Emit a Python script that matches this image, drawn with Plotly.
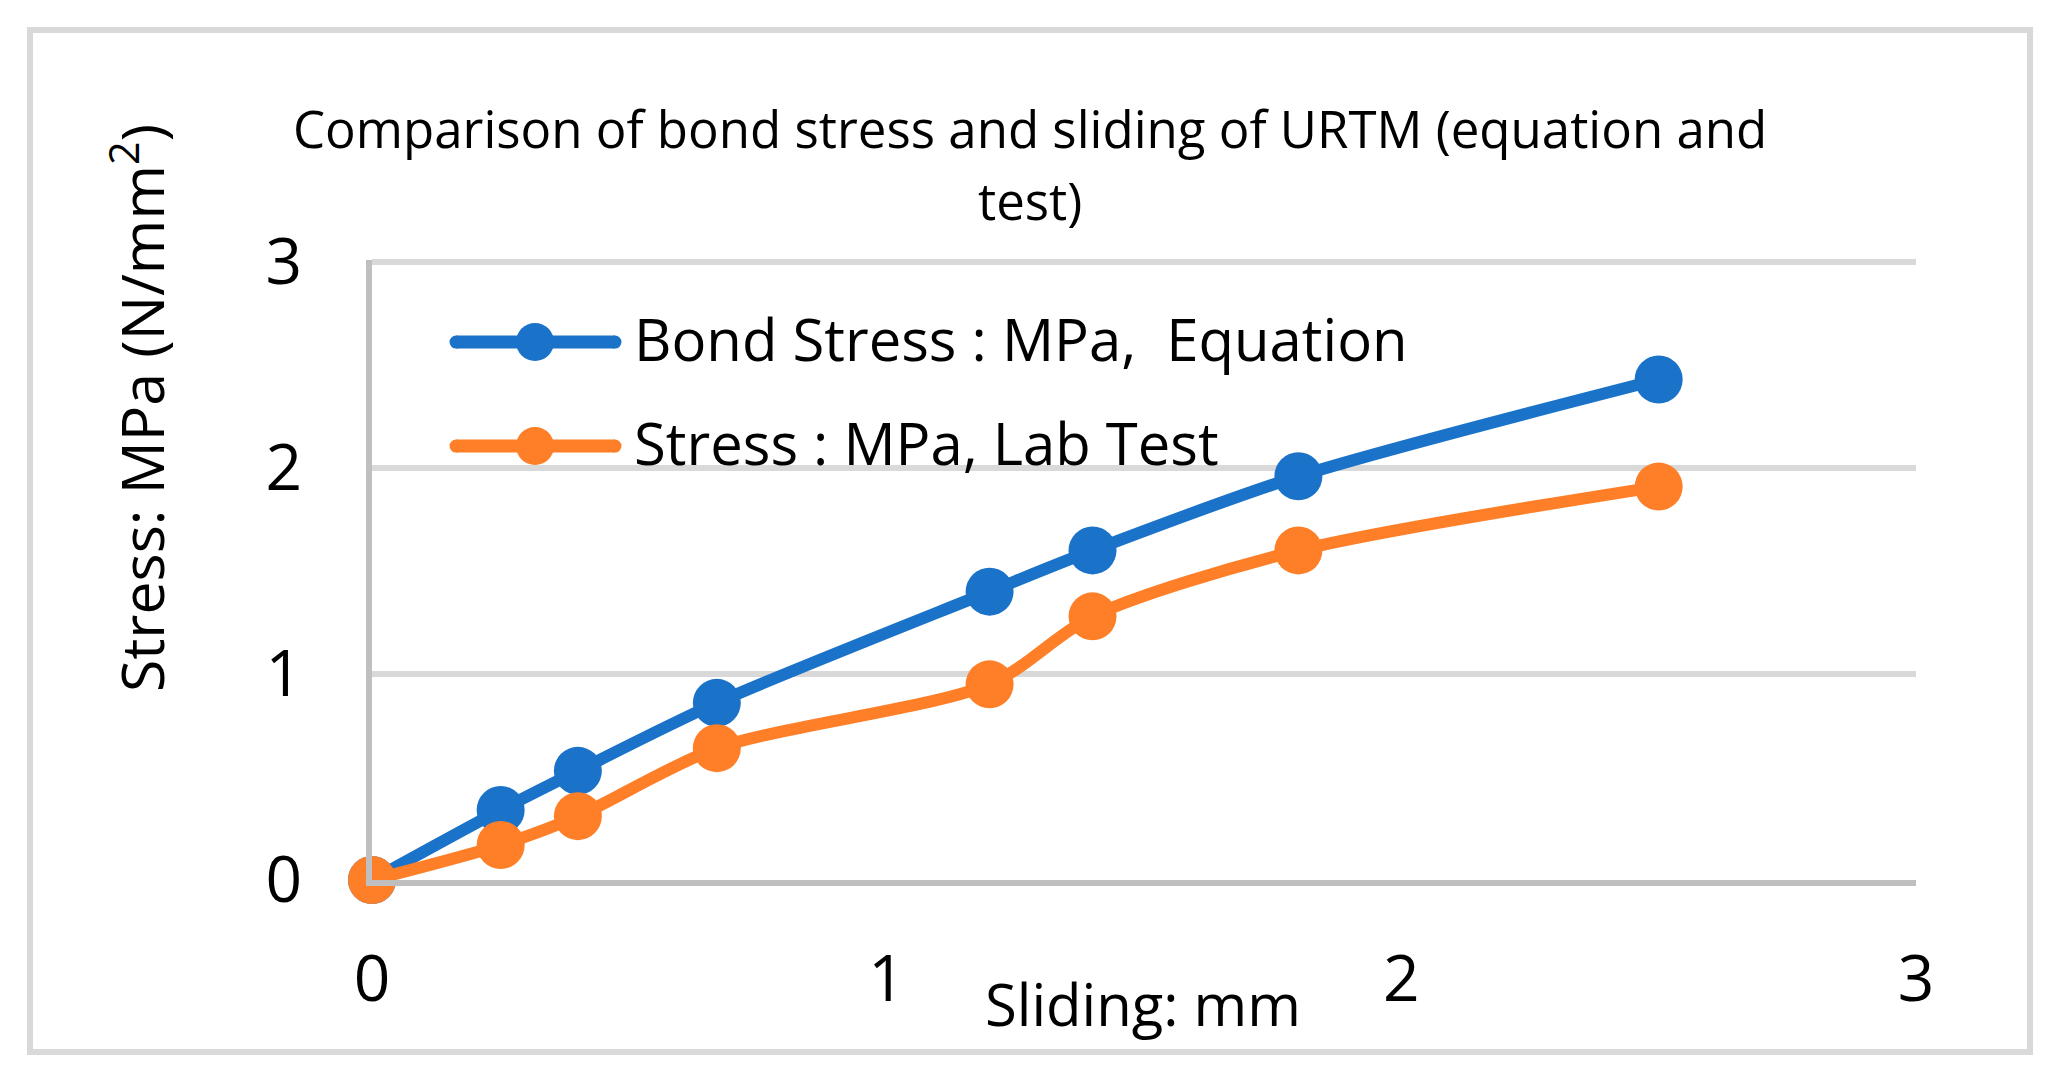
import plotly.graph_objects as go

# ---- data ----
sliding_mm = [0, 0.25, 0.4, 0.67, 1.2, 1.4, 1.8, 2.5]
bond_stress_equation = [0, 0.34, 0.53, 0.86, 1.40, 1.60, 1.96, 2.43]
stress_lab_test = [0, 0.17, 0.31, 0.64, 0.95, 1.28, 1.60, 1.91]
series_names = ["Bond Stress : MPa,\u00a0 Equation", "Stress : MPa, Lab Test"]
series_colors = ["#1a73c8", "#fe7f27"]
x_ticks = [0, 1, 2, 3]
y_ticks = [0, 1, 2, 3]
title_lines = ["Comparison of bond stress and sliding of URTM (equation and", "test)"]
x_title = "Sliding: mm"
y_title = "Stress: MPa (N/mm<sup>2</sup>)"

OFF = 8  # default page body margin
W, H = 2051 - OFF, 1081 - OFF
# plot area in screen pixels -> layout pixels
L, R, T, B = 372 - OFF, 1916 - OFF, 262 - OFF, 880 - OFF
YMAX = 3.01
T_ext = B - (B - T) * YMAX / 3.0


def px(xs):
    return (xs - OFF - L) / (R - L)


def py(ys):
    return (B - (ys - OFF)) / (B - T_ext)


FONT = "Open Sans"

fig = go.Figure()
for ys, name, col in zip([bond_stress_equation, stress_lab_test], series_names, series_colors):
    fig.add_trace(go.Scatter(
        x=sliding_mm, y=ys, name=name, mode="lines+markers",
        line=dict(color=col, width=12, shape="spline", smoothing=0.8),
        marker=dict(color=col, size=48),
        cliponaxis=False, showlegend=False,
    ))

fig.update_layout(
    width=W, height=H,
    margin=dict(l=L, r=W - R, t=T_ext, b=H - B, pad=0),
    paper_bgcolor="white", plot_bgcolor="white",
    font=dict(family=FONT, color="black"),
    xaxis=dict(range=[0, 3], tickvals=x_ticks, showgrid=False, zeroline=False,
               showline=True, linecolor="#bfbfbf", linewidth=6,
               tickfont=dict(size=64, family=FONT), ticklabelstandoff=38),
    yaxis=dict(range=[0, YMAX], tickvals=y_ticks, showgrid=True, gridcolor="#d9d9d9",
               gridwidth=6, zeroline=False, showline=True, linecolor="#bfbfbf",
               linewidth=6, tickfont=dict(size=64, family=FONT), ticklabelstandoff=51),
)

annotations = [
    dict(text=title_lines[0], x=px(1030), y=py(128), xref="paper", yref="paper",
         showarrow=False, font=dict(size=51, family=FONT), xanchor="center", yanchor="middle"),
    dict(text=title_lines[1], x=px(1030), y=py(200), xref="paper", yref="paper",
         showarrow=False, font=dict(size=51, family=FONT), xanchor="center", yanchor="middle"),
    dict(text=x_title, x=px(1143), y=py(1004), xref="paper", yref="paper",
         showarrow=False, font=dict(size=58, family=FONT), xanchor="center", yanchor="middle"),
    dict(text=y_title, x=px(138), y=py(408), xref="paper", yref="paper", textangle=-90,
         showarrow=False, font=dict(size=59, family=FONT), xanchor="center", yanchor="middle"),
]

shapes = [
    dict(type="rect", xref="paper", yref="paper", x0=px(30), x1=px(2030), y0=py(1052), y1=py(30),
         line=dict(color="#d9d9d9", width=6), layer="below"),
]


def dot(cx, cy, r, col):
    return dict(type="circle", xref="paper", yref="paper", xsizemode="pixel", ysizemode="pixel",
                xanchor=px(cx), yanchor=py(cy), x0=-r, x1=r, y0=-r, y1=r,
                fillcolor=col, line=dict(color=col, width=0))


legend_y = [342, 446]
LX0, LX1, LW = 456, 615, 13
for name, col, yy in zip(series_names, series_colors, legend_y):
    shapes.append(dict(type="line", xref="paper", yref="paper", x0=px(LX0), x1=px(LX1),
                       y0=py(yy), y1=py(yy), line=dict(color=col, width=LW)))
    shapes.append(dot(LX0, yy, LW / 2, col))
    shapes.append(dot(LX1, yy, LW / 2, col))
    shapes.append(dot(535, yy, 19, col))
    annotations.append(dict(text=name, x=px(632), y=py(yy - 4), xref="paper", yref="paper",
                            showarrow=False, font=dict(size=58, family=FONT),
                            xanchor="left", yanchor="middle"))

fig.update_layout(annotations=annotations, shapes=shapes)
fig.write_html("out.html")
